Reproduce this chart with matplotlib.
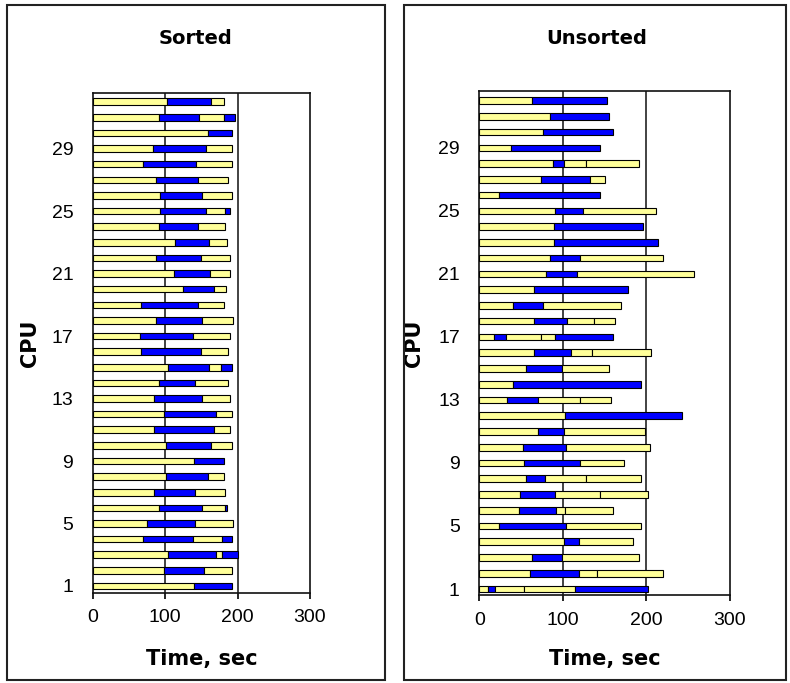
import matplotlib
matplotlib.use('Agg')
import matplotlib.pyplot as plt
import numpy as np
from matplotlib.patches import Rectangle

cpus = list(range(1, 33))
ytick_values = [1, 5, 9, 13, 17, 21, 25, 29]
xtick_values = [0, 100, 200, 300]
titles = ["Sorted", "Unsorted"]
x_label = "Time, sec"
y_label = "CPU"

# segment durations per CPU (CPU 1..32); colours alternate yellow/blue/yellow/yellow/blue
sorted_s1 = [140, 99, 104, 70, 75, 91, 85, 101, 140, 101, 85, 99, 85, 91, 104, 67,
             65, 88, 67, 125, 112, 88, 114, 91, 93, 93, 87, 70, 83, 159, 91, 103]
sorted_s2 = [53, 55, 66, 68, 66, 60, 56, 58, 41, 63, 82, 71, 66, 50, 56, 82,
             73, 63, 78, 42, 50, 61, 46, 55, 63, 58, 59, 73, 74, 34, 56, 61]
sorted_s3 = [0, 38, 9, 41, 53, 32, 42, 22, 0, 28, 23, 22, 39, 46, 17, 38,
             52, 43, 36, 17, 28, 41, 25, 36, 27, 41, 41, 49, 35, 0, 34, 17]
sorted_s4 = [0] * 32
sorted_s5 = [0, 0, 21, 14, 0, 2, 0, 0, 0, 0, 0, 0, 0, 0, 16, 0,
             0, 0, 0, 0, 0, 0, 0, 0, 7, 0, 0, 0, 0, 0, 15, 0]

unsorted_s1 = [11, 61, 63, 101, 24, 47, 49, 56, 54, 52, 70, 103, 33, 40, 56, 65,
               18, 65, 40, 65, 80, 85, 89, 89, 90, 24, 74, 88, 38, 76, 85, 63]
unsorted_s2 = [8, 58, 36, 18, 80, 45, 41, 23, 67, 52, 31, 140, 37, 154, 43, 45,
               14, 40, 36, 113, 37, 36, 125, 107, 34, 120, 59, 13, 106, 84, 70, 90]
unsorted_s3 = [35, 22, 92, 65, 89, 11, 54, 49, 52, 100, 97, 0, 51, 0, 56, 25,
               42, 32, 93, 0, 140, 99, 0, 0, 87, 0, 18, 27, 0, 0, 0, 0]
unsorted_s4 = [60, 79, 0, 0, 0, 57, 58, 65, 0, 0, 0, 0, 37, 0, 0, 70,
               16, 25, 0, 0, 0, 0, 0, 0, 0, 0, 0, 63, 0, 0, 0, 0]
unsorted_s5 = [88, 0, 0, 0, 0, 0, 0, 0, 0, 0, 0, 0, 0, 0, 0, 0,
               70, 0, 0, 0, 0, 0, 0, 0, 0, 0, 0, 0, 0, 0, 0, 0]

YEL = '#FFFF99'
BLU = '#0000FF'
seg_colors = [YEL, BLU, YEL, YEL, BLU]

W, H = 790, 683
fig = plt.figure(figsize=(W / 100, H / 100), dpi=100)
fig.patch.set_facecolor('white')

def frac(x0, y0, x1, y1):
    return [x0 / W, 1 - y1 / H, (x1 - x0) / W, (y1 - y0) / H]

# outer chart frames
for (x0, y0, x1, y1) in [(7, 5, 385, 680), (404, 5, 786, 680)]:
    fig.patches.append(Rectangle((x0 / W, 1 - y1 / H), (x1 - x0) / W, (y1 - y0) / H,
                                 transform=fig.transFigure, fill=False,
                                 edgecolor='#222222', linewidth=1.5))

panels = [
    dict(series=[sorted_s1, sorted_s2, sorted_s3, sorted_s4, sorted_s5],
         box=(92.7, 93.3, 310, 592.7), ylim=(0.57, 32.54),
         title_x=196, ylab_x=30),
    dict(series=[unsorted_s1, unsorted_s2, unsorted_s3, unsorted_s4, unsorted_s5],
         box=(479.3, 90.7, 730, 595), ylim=(0.62, 32.63),
         title_x=597, ylab_x=414),
]

for p, title in zip(panels, titles):
    x0, y0, x1, y1 = p['box']
    ax = fig.add_axes(frac(x0, y0, x1, y1))
    left = np.zeros(len(cpus))
    for vals, col in zip(p['series'], seg_colors):
        w = np.array(vals, dtype=float)
        lw = np.where(w > 0, 0.8, 0.0)
        ax.barh(cpus, w, left=left, height=0.42, color=col, edgecolor='black',
                linewidth=lw, zorder=3)
        left = left + w
    ax.set_xlim(0, 300)
    ax.set_ylim(*p['ylim'])
    ax.set_xticks(xtick_values)
    ax.set_xticklabels([str(v) for v in xtick_values], fontsize=14,
                       family='Liberation Sans')
    ax.set_yticks(ytick_values)
    ax.set_yticklabels([str(v) for v in ytick_values], fontsize=14,
                       family='Liberation Sans')
    ax.tick_params(axis='x', direction='out', length=4, width=1.2, pad=8)
    ax.tick_params(axis='y', length=0, pad=14)
    for v in [100, 200]:
        ax.axvline(v, color='#222222', linewidth=1.2, zorder=1)
    for s in ax.spines.values():
        s.set_linewidth(1.2)
        s.set_color('#111111')
    ax.set_xlabel(x_label, fontsize=15, fontweight='bold')
    ax.xaxis.set_label_coords(0.5, -(659 - y1) / (y1 - y0))
    ax.xaxis.label.set_va('center')
    ax.set_ylabel(y_label, fontsize=15, fontweight='bold')
    ax.yaxis.set_label_coords((p['ylab_x'] - x0) / (x1 - x0), 0.5)
    ax.yaxis.label.set_va('center')
    fig.text(p['title_x'] / W, 1 - 38 / H, title, fontsize=14, fontweight='bold',
             ha='center', va='center')

fig.savefig('out.png', dpi=100, facecolor='white')
